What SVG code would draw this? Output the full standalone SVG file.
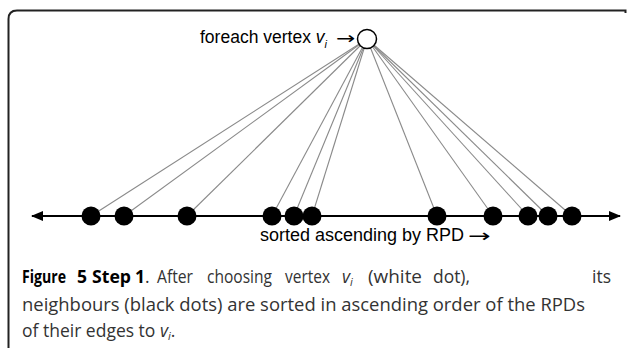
<svg xmlns="http://www.w3.org/2000/svg" width="627" height="348" viewBox="0 0 627 348">
  <style>
    .label { font-family: "Liberation Sans", Arial, sans-serif; font-size: 17.5px; fill: #000; }
    .arrow { font-family: "DejaVu Sans", sans-serif; fill: #000; }
    .cap { font-family: "Open Sans", "Noto Sans", sans-serif; font-size: 17.5px; fill: #333; }
    .capb { font-weight: bold; fill: #000; }
    .edge { stroke: #8a8a8a; stroke-width: 1.1; }
    .dot { fill: #000; }
  </style>
  <defs>
    <marker id="ah" viewBox="0 0 12 10" refX="11" refY="5" markerWidth="12" markerHeight="10" markerUnits="userSpaceOnUse" orient="auto-start-reverse">
      <path d="M0,0 L12,5 L0,10 Z" fill="#000"/>
    </marker>
  </defs>

  <!-- frame -->
  <path d="M8.5,348 L8.5,19 Q8.5,10.5 17,10.5 L625.5,10.5 L625.5,13" fill="none" stroke="#222" stroke-width="2"/>

  <!-- edges from the chosen vertex to its neighbours -->
  <g id="edges">
    <line class="edge" x1="367" y1="39" x2="91" y2="216"/>
    <line class="edge" x1="367" y1="39" x2="124" y2="216"/>
    <line class="edge" x1="367" y1="39" x2="187" y2="216"/>
    <line class="edge" x1="367" y1="39" x2="272" y2="216"/>
    <line class="edge" x1="367" y1="39" x2="294" y2="216"/>
    <line class="edge" x1="367" y1="39" x2="312" y2="216"/>
    <line class="edge" x1="367" y1="39" x2="437" y2="216"/>
    <line class="edge" x1="367" y1="39" x2="493" y2="216"/>
    <line class="edge" x1="367" y1="39" x2="528" y2="216"/>
    <line class="edge" x1="367" y1="39" x2="548" y2="216"/>
    <line class="edge" x1="367" y1="39" x2="572" y2="216"/>
  </g>

  <!-- sorting axis -->
  <g id="axis">
    <line x1="32" y1="216" x2="620" y2="216" stroke="#000" stroke-width="2" marker-start="url(#ah)" marker-end="url(#ah)"/>
  </g>

  <!-- chosen vertex -->
  <g id="vertex">
    <circle cx="367" cy="39" r="9.5" fill="#fff" stroke="#000" stroke-width="1.5"/>
    <text class="label" x="200" y="43">foreach vertex <tspan font-style="italic">v</tspan><tspan font-style="italic" font-size="11" dy="5">i</tspan></text>
    <text class="arrow" font-size="17" transform="translate(336,43.5) scale(1.35,1)">→</text>
  </g>

  <!-- neighbours -->
  <g id="neighbours">
    <circle class="dot" cx="91" cy="216" r="9.5"/>
    <circle class="dot" cx="124" cy="216" r="9.5"/>
    <circle class="dot" cx="187" cy="216" r="9.5"/>
    <circle class="dot" cx="272" cy="216" r="9.5"/>
    <circle class="dot" cx="294" cy="216" r="9.5"/>
    <circle class="dot" cx="312" cy="216" r="9.5"/>
    <circle class="dot" cx="437" cy="216" r="9.5"/>
    <circle class="dot" cx="493" cy="216" r="9.5"/>
    <circle class="dot" cx="528" cy="216" r="9.5"/>
    <circle class="dot" cx="548" cy="216" r="9.5"/>
    <circle class="dot" cx="572" cy="216" r="9.5"/>
  </g>

  <g id="axis-label">
    <text class="label" x="260" y="241" font-size="18" textLength="204" lengthAdjust="spacingAndGlyphs">sorted ascending by RPD</text>
    <text class="arrow" font-size="18" transform="translate(468,241.5) scale(1.5,1)">→</text>
  </g>

  <!-- caption -->
  <g id="caption">
    <text class="cap" y="283">
      <tspan class="capb" x="22" textLength="44" lengthAdjust="spacingAndGlyphs">Figure</tspan><tspan class="capb" x="77">5</tspan><tspan class="capb" x="92" textLength="39" lengthAdjust="spacingAndGlyphs">Step</tspan><tspan class="capb" x="135">1</tspan><tspan>.</tspan>
      <tspan x="157" textLength="36" lengthAdjust="spacingAndGlyphs">After</tspan><tspan x="207" textLength="65" lengthAdjust="spacingAndGlyphs">choosing</tspan><tspan x="285" textLength="45" lengthAdjust="spacingAndGlyphs">vertex</tspan><tspan x="342" font-style="italic">v</tspan><tspan font-style="italic" font-size="11" dy="3">i</tspan><tspan x="368" dy="-3" textLength="54" lengthAdjust="spacingAndGlyphs">(white</tspan><tspan x="433" textLength="37" lengthAdjust="spacingAndGlyphs">dot),</tspan><tspan x="592">its</tspan>
    </text>
    <text class="cap" x="22" y="311" textLength="563" lengthAdjust="spacingAndGlyphs">neighbours (black dots) are sorted in ascending order of the RPDs</text>
    <text class="cap" x="22" y="337">of their edges to <tspan font-style="italic">v</tspan><tspan font-style="italic" font-size="11" dy="3">i</tspan><tspan dy="-3">.</tspan></text>
  </g>
</svg>
